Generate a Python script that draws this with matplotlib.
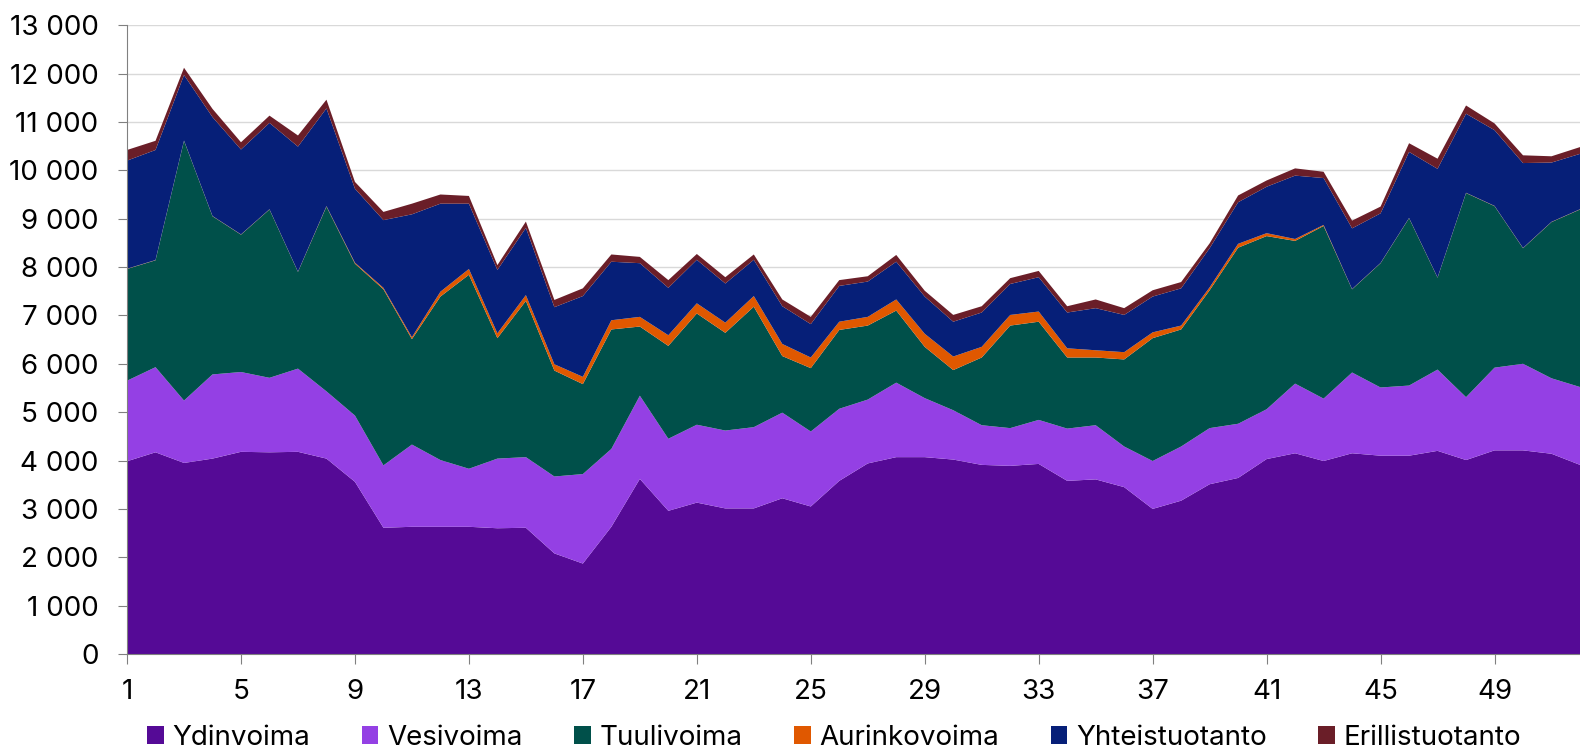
import matplotlib.pyplot as plt
import numpy as np
from matplotlib.ticker import FuncFormatter

weeks = np.arange(1, 53)

ydinvoima = [3985, 4170, 3950, 4040, 4180, 4170, 4180, 4040, 3560, 2610,
             2630, 2630, 2630, 2600, 2610, 2080, 1870, 2630, 3620, 2960,
             3130, 3010, 3010, 3220, 3050, 3580, 3940, 4070, 4070, 4020,
             3910, 3890, 3930, 3580, 3610, 3450, 3000, 3170, 3510, 3640,
             4030, 4150, 3990, 4150, 4100, 4100, 4200, 4010, 4210, 4210,
             4140, 3910]
vesivoima = [1665, 1760, 1290, 1740, 1650, 1540, 1720, 1390, 1370, 1290,
             1700, 1380, 1200, 1440, 1460, 1590, 1850, 1610, 1720, 1490,
             1610, 1610, 1680, 1770, 1550, 1490, 1320, 1540, 1220, 1020,
             820, 780, 910, 1080, 1120, 840, 990, 1120, 1160, 1120,
             1030, 1440, 1290, 1670, 1410, 1450, 1680, 1300, 1710, 1790,
             1560, 1610]
tuulivoima = [2310, 2210, 5370, 3270, 2840, 3480, 2000, 3820, 3140, 3640,
              2180, 3380, 4010, 2490, 3230, 2190, 1860, 2470, 1430, 1920,
              2300, 2020, 2490, 1170, 1310, 1630, 1530, 1490, 1060, 830,
              1400, 2120, 2030, 1470, 1400, 1800, 2540, 2420, 2850, 3640,
              3580, 2950, 3570, 1720, 2570, 3460, 1900, 4220, 3340, 2390,
              3230, 3670]
aurinkovoima = [5, 5, 5, 5, 5, 5, 5, 10, 20, 30,
                40, 100, 120, 100, 120, 130, 150, 190, 200, 220,
                210, 210, 220, 250, 220, 170, 180, 230, 270, 280,
                220, 220, 210, 190, 150, 150, 120, 80, 60, 80,
                60, 40, 20, 5, 5, 5, 5, 5, 5, 5,
                5, 5]
yhteistuotanto = [2235, 2275, 1355, 2045, 1755, 1785, 2585, 2020, 1530, 1400,
                  2540, 1820, 1350, 1310, 1390, 1180, 1670, 1210, 1110, 980,
                  900, 810, 750, 780, 690, 740, 730, 780, 770, 720,
                  710, 640, 710, 740, 870, 770, 740, 770, 810, 860,
                  960, 1310, 970, 1255, 1025, 1365, 2245, 1635, 1565, 1755,
                  1225, 1145]
erillistuotanto = [220, 190, 150, 170, 150, 150, 230, 180, 140, 170,
                   220, 190, 160, 100, 130, 150, 160, 150, 130, 160,
                   120, 130, 110, 140, 150, 120, 110, 140, 120, 140,
                   130, 120, 130, 130, 180, 140, 130, 130, 100, 140,
                   130, 150, 130, 160, 140, 180, 210, 170, 140, 160,
                   130, 140]

labels = ["Ydinvoima", "Vesivoima", "Tuulivoima", "Aurinkovoima",
          "Yhteistuotanto", "Erillistuotanto"]
colors = ["#550A96", "#9440E4", "#00504A", "#E05800", "#061F78", "#6A1E28"]

plt.rcParams["font.family"] = ["Inter", "DejaVu Sans"]

fig = plt.figure(figsize=(15.8, 7.52), dpi=100)
ax = fig.add_axes([0.0804, 0.1303, 0.9196, 0.8362])

ax.stackplot(weeks, ydinvoima, vesivoima, tuulivoima, aurinkovoima,
             yhteistuotanto, erillistuotanto, labels=labels, colors=colors,
             linewidth=0)

ax.set_xlim(1, 52)
ax.set_ylim(0, 13000)
ax.set_yticks(np.arange(0, 13001, 1000))
ax.yaxis.set_major_formatter(FuncFormatter(lambda v, p: f"{int(v):,}".replace(",", " ")))
ax.set_xticks(np.arange(1, 52, 4))

ax.grid(axis="y", color="#D9D9D9", linewidth=1)
ax.set_axisbelow(True)
for side in ["top", "right"]:
    ax.spines[side].set_visible(False)
ax.spines["left"].set_color("#808080")
ax.spines["bottom"].set_color("#808080")
ax.tick_params(axis="x", length=7, color="#808080", labelsize=20, pad=11)
ax.tick_params(axis="y", length=6.5, color="#808080", labelsize=20, pad=14)

fig.legend(loc="center", bbox_to_anchor=(0.528, 0.019), ncol=6,
           frameon=False, fontsize=20, handlelength=0.6, handleheight=0.6,
           columnspacing=1.85, handletextpad=0.32, borderaxespad=0)

fig.savefig("out.png", dpi=100)
